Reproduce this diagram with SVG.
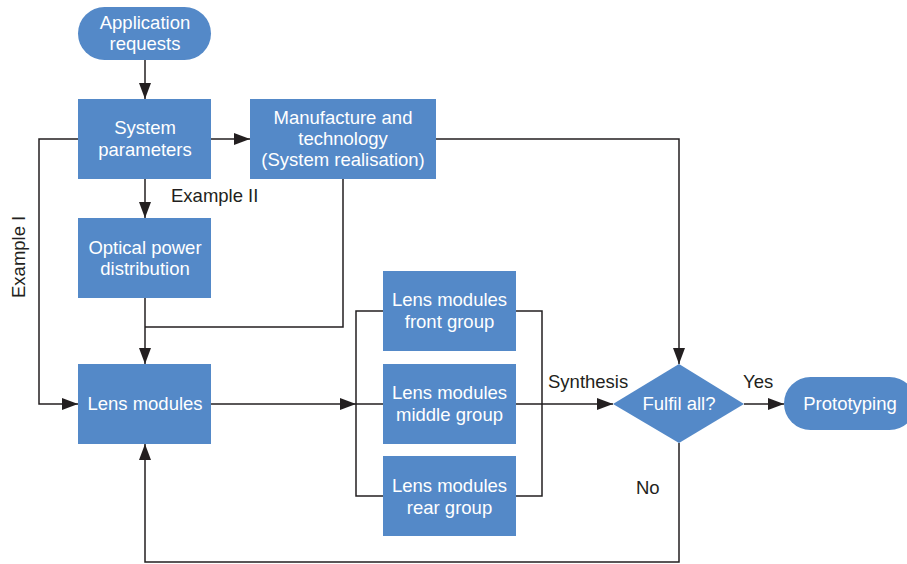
<svg xmlns="http://www.w3.org/2000/svg" width="907" height="564" viewBox="0 0 907 564">
<style>
.n{fill:#5489c8}
.t{font-family:"Liberation Sans",Arial,sans-serif;font-size:18.5px;fill:#ffffff;text-anchor:middle}
.l{font-family:"Liberation Sans",Arial,sans-serif;font-size:18.5px;fill:#231f20}
.c{fill:none;stroke:#231f20;stroke-width:1.5}
</style>
<defs>
<marker id="a" viewBox="0 0 16 12" refX="16" refY="6" markerWidth="16" markerHeight="12" markerUnits="userSpaceOnUse" orient="auto">
<path d="M0,0 L16,6 L0,12 Z" fill="#231f20"/>
</marker>
</defs>
<rect width="907" height="564" fill="#ffffff"/>
<g id="connectors">
<path class="c" d="M145,60 V99" marker-end="url(#a)"/>
<path class="c" d="M211,139 H250" marker-end="url(#a)"/>
<path class="c" d="M145,179 V218" marker-end="url(#a)"/>
<path class="c" d="M145,298 V364" marker-end="url(#a)"/>
<path class="c" d="M343,179 V327 H145"/>
<path class="c" d="M78,139 H39 V404 H78" marker-end="url(#a)"/>
<path class="c" d="M436,139 H679 V364" marker-end="url(#a)"/>
<path class="c" d="M211,404 H356" marker-end="url(#a)"/>
<path class="c" d="M383,311 H356 V496 H383 M356,404 H383"/>
<path class="c" d="M516,311 H542 V496 H516 M516,404 H542"/>
<path class="c" d="M542,404 H613" marker-end="url(#a)"/>
<path class="c" d="M744,404 H784" marker-end="url(#a)"/>
<path class="c" d="M679,443 V562 H145 V444" marker-end="url(#a)"/>
</g>
<g id="labels">
<text class="l" x="171" y="202">Example II</text>
<text class="l" transform="translate(25,298) rotate(-90)">Example I</text>
<text class="l" x="548" y="388">Synthesis</text>
<text class="l" x="743" y="388">Yes</text>
<text class="l" x="636" y="494">No</text>
</g>
<g id="app">
<rect class="n" x="78" y="7" width="133" height="53" rx="26.5"/>
<text class="t" x="145" y="29">Application</text>
<text class="t" x="145" y="50">requests</text>
</g>
<g id="sys">
<rect class="n" x="78" y="99" width="133" height="80"/>
<text class="t" x="145" y="134">System</text>
<text class="t" x="145" y="156">parameters</text>
</g>
<g id="manu">
<rect class="n" x="250" y="99" width="186" height="80"/>
<text class="t" x="343" y="124">Manufacture and</text>
<text class="t" x="343" y="145">technology</text>
<text class="t" x="343" y="166">(System realisation)</text>
</g>
<g id="optical">
<rect class="n" x="78" y="218" width="133" height="80"/>
<text class="t" x="145" y="254">Optical power</text>
<text class="t" x="145" y="275">distribution</text>
</g>
<g id="lens">
<rect class="n" x="78" y="364" width="133" height="80"/>
<text class="t" x="145" y="410">Lens modules</text>
</g>
<g id="front">
<rect class="n" x="383" y="271" width="133" height="80"/>
<text class="t" x="449.5" y="306">Lens modules</text>
<text class="t" x="449.5" y="328">front group</text>
</g>
<g id="middle">
<rect class="n" x="383" y="364" width="133" height="80"/>
<text class="t" x="449.5" y="399">Lens modules</text>
<text class="t" x="449.5" y="421">middle group</text>
</g>
<g id="rear">
<rect class="n" x="383" y="456" width="133" height="80"/>
<text class="t" x="449.5" y="492">Lens modules</text>
<text class="t" x="449.5" y="514">rear group</text>
</g>
<g id="fulfil">
<polygon class="n" points="613,404 679,364 744,404 679,443"/>
<text class="t" x="679" y="410">Fulfil all?</text>
</g>
<g id="proto">
<rect class="n" x="784" y="377" width="132" height="53" rx="26.5"/>
<text class="t" x="850" y="410">Prototyping</text>
</g>
</svg>
